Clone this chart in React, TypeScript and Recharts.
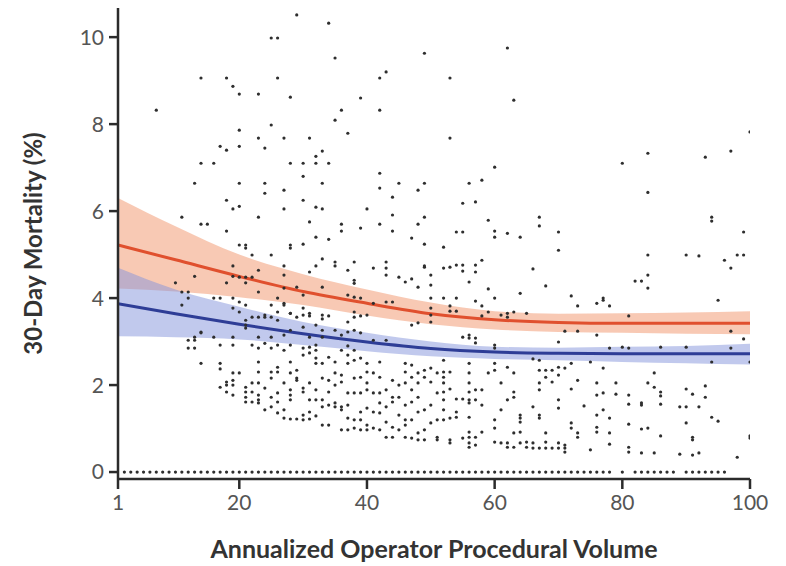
import React from 'react';
import { ComposedChart, XAxis, YAxis, Area, Line, Scatter, Label } from 'recharts';

// Fitted curves (x = annualized operator volume)
const curveX = [1, 10, 20, 30, 40, 50, 60, 70, 80, 90, 100];
const redFit = [5.22, 4.88, 4.5, 4.15, 3.88, 3.64, 3.5, 3.44, 3.42, 3.42, 3.42];
const redLow = [4.22, 4.15, 4.02, 3.84, 3.6, 3.4, 3.28, 3.22, 3.2, 3.18, 3.17];
const redHigh = [6.3, 5.65, 5.0, 4.55, 4.2, 3.9, 3.7, 3.64, 3.65, 3.67, 3.7];
const blueFit = [3.87, 3.64, 3.4, 3.18, 2.99, 2.84, 2.76, 2.73, 2.72, 2.72, 2.72];
const blueLow = [3.12, 3.1, 3.05, 2.92, 2.78, 2.66, 2.6, 2.57, 2.53, 2.5, 2.47];
const blueHigh = [4.7, 4.2, 3.8, 3.45, 3.2, 3.0, 2.88, 2.86, 2.88, 2.9, 2.95];

const xTicks = [1, 20, 40, 60, 80, 100];
const yTicks = [0, 2, 4, 6, 8, 10];

// Operator points [volume, mortality %]
const highPoints: number[][] = [
  [7, 8.32], [14, 9.06], [18, 9.06], [19, 8.87], [20, 8.69], [23, 8.69], [25, 9.98], [26, 9.98], [26, 9.06],
  [28, 8.62], [29, 10.51], [34, 10.32], [35, 9.52], [35, 8.09], [36, 8.32], [37, 7.79], [39, 8.6], [42, 9.06],
  [43, 9.2], [42, 8.32], [25, 7.98], [20, 7.86], [17, 7.49], [18, 7.4], [20, 7.49], [23, 7.68], [24, 7.45],
  [27, 7.68], [31, 7.68], [14, 7.1], [16, 7.1], [28, 7.1], [30, 7.1], [32, 7.1], [34, 7.1], [32, 7.26], [33, 7.38],
  [30, 6.8], [13, 6.64], [20, 6.64], [24, 6.64], [24, 6.41], [27, 6.48], [33, 6.64], [42, 6.87], [42, 6.53],
  [45, 6.64], [18, 6.25], [19, 6.05], [20, 6.11], [27, 6.05], [30, 6.25], [32, 6.09], [33, 6.05], [40, 6.05],
  [11, 5.86], [14, 5.7], [15, 5.7], [23, 5.86], [18, 5.54], [31, 5.75], [32, 5.4], [34, 5.35], [36, 5.7],
  [36, 5.54], [39, 5.61], [42, 5.7], [44, 6.32], [44, 5.91], [44, 5.54], [20, 5.22], [21, 5.22], [22, 4.99],
  [25, 4.99], [28, 5.22], [28, 5.15], [30, 5.24], [21, 5.15],
  [49, 9.63], [62, 9.75], [53, 9.06], [63, 8.55], [53, 7.68], [60, 7.01], [100, 7.82], [84, 7.33], [93, 7.24],
  [97, 7.38], [80, 7.1], [84, 6.43], [94, 5.86], [94, 5.77], [99, 5.52], [84, 4.99], [90, 4.99], [92, 4.97],
  [96, 4.87], [98, 4.99], [99, 4.99], [48, 6.48], [49, 6.64], [56, 6.64], [58, 6.71], [55, 6.18], [57, 6.21],
  [49, 5.86], [48, 5.7], [47, 5.38], [49, 5.24], [52, 5.17], [54, 5.52], [55, 5.52], [59, 5.79], [60, 5.54],
  [60, 5.4], [62, 5.49], [64, 5.4], [67, 5.86], [67, 5.66], [70, 5.52], [70, 5.1],
];

const midPoints: number[][] = [
  [97, 4.69], [84, 4.53], [66, 4.67], [43, 4.83], [43, 4.69], [43, 4.53], [49, 4.71], [52, 4.69], [53, 4.71],
  [54, 4.76], [55, 4.76], [55, 4.62], [57, 4.76], [57, 4.6], [58, 4.87], [50, 4.53],
  [19, 4.74], [23, 4.64], [13, 4.5], [19, 4.5], [20, 4.48], [21, 4.48], [22, 4.48], [21, 4.35], [10, 4.35],
  [18, 4.35], [11, 4.14], [12, 4.14], [12, 4.0], [11, 3.84], [16, 4.0], [17, 4.0], [19, 4.0], [20, 3.91],
  [21, 3.84], [19, 3.77], [20, 3.68], [23, 4.14], [25, 3.84], [26, 3.68], [22, 3.56], [24, 3.56], [26, 4.0],
  [33, 4.9], [35, 4.83], [35, 4.74], [38, 4.83], [32, 4.74], [31, 4.6], [27, 4.74], [27, 4.53], [37, 4.64],
  [41, 4.69], [49, 4.74], [50, 4.3], [50, 4.0], [50, 3.77], [45, 4.48], [46, 4.37], [47, 4.44], [48, 4.25],
  [38, 4.41], [38, 4.34], [33, 4.25], [29, 4.25], [30, 4.07], [30, 3.77], [27, 4.23], [27, 3.88], [27, 3.84],
  [37, 4.07], [38, 4.02], [39, 4.0], [41, 3.88], [43, 3.91], [44, 3.91], [28, 3.65], [29, 3.56], [31, 3.59],
  [33, 3.61], [33, 3.52], [34, 3.59], [38, 3.68], [39, 3.59], [50, 3.61], [50, 3.45], [47, 3.38], [48, 3.43],
  [56, 4.37], [59, 4.21], [64, 4.11], [68, 4.28], [52, 4.0], [54, 4.0], [57, 3.93], [58, 3.82], [60, 4.0],
  [72, 4.05], [73, 3.82], [76, 3.88], [77, 3.95], [53, 3.82], [53, 3.7], [54, 3.7], [59, 3.68], [61, 3.61],
  [62, 3.65], [62, 3.56], [63, 3.68], [65, 3.65], [58, 3.59],
  [82, 4.39], [83, 4.39], [84, 4.23], [77, 4.0], [78, 3.82], [95, 3.95], [81, 3.59],
  [14, 3.22], [21, 3.49], [21, 3.38], [21, 3.31], [23, 3.56], [24, 3.61], [25, 3.56], [26, 3.49], [19, 3.1],
  [23, 3.1], [25, 3.1], [27, 3.15], [28, 3.65], [30, 3.61], [31, 3.65], [28, 3.26], [30, 3.33], [32, 3.38],
  [33, 3.26], [31, 3.1], [33, 3.1], [35, 3.26], [36, 3.15], [37, 3.22], [38, 3.26], [39, 3.2], [37, 3.45],
  [38, 3.56], [40, 3.61], [41, 3.03], [43, 3.03], [12, 3.03], [13, 3.1], [13, 3.03], [14, 3.2], [16, 3.1],
  [55, 3.1], [56, 3.15], [56, 3.08], [57, 3.08], [57, 2.97], [70, 2.99], [71, 3.24], [73, 3.24], [76, 3.15],
  [99, 3.06], [97, 3.24],
];

const lowPoints: number[][] = [
  [12, 2.85], [13, 2.85], [14, 2.5], [17, 2.92], [19, 2.92], [22, 2.92], [23, 2.85], [24, 2.96], [25, 2.85],
  [26, 2.92], [17, 2.5], [17, 2.37], [19, 2.28], [20, 2.28], [23, 2.53], [23, 2.3], [25, 2.3], [26, 2.41],
  [26, 2.3], [18, 2.07], [18, 2.0], [18, 1.84], [19, 2.11], [19, 2.0], [19, 1.77], [17, 1.95], [21, 1.95],
  [21, 1.84], [21, 1.72], [21, 1.61], [22, 2.05], [22, 1.84], [22, 1.61], [23, 2.05], [23, 1.77], [23, 1.66],
  [23, 1.59], [24, 1.93], [24, 1.43], [25, 2.16], [25, 1.72], [25, 1.5], [26, 1.82], [26, 1.61], [26, 1.36],
  [28, 2.92], [27, 2.8], [30, 2.85], [30, 2.69], [31, 2.87], [31, 2.74], [32, 2.92], [32, 2.8], [32, 2.62],
  [32, 2.5], [28, 2.53], [29, 2.34], [29, 2.16], [28, 2.28], [27, 2.05], [28, 1.89], [28, 1.77], [28, 1.66],
  [27, 1.43], [27, 1.24], [28, 1.22], [29, 1.22], [30, 1.31], [30, 1.2], [31, 1.38], [31, 1.22], [32, 1.29],
  [29, 2.11], [30, 1.93], [30, 1.84], [31, 2.05], [31, 1.66], [32, 1.89], [32, 1.66],
  [33, 2.5], [33, 2.16], [33, 1.66], [33, 1.5], [33, 1.08], [34, 2.64], [34, 2.11], [34, 1.84], [34, 1.54],
  [34, 1.08], [35, 2.53], [35, 2.28], [35, 2.0], [35, 1.59], [35, 1.5], [36, 2.8], [36, 2.23], [36, 2.07],
  [36, 1.5], [36, 1.43], [36, 0.97], [37, 2.9], [37, 2.69], [37, 2.5], [37, 1.82], [37, 1.54], [37, 1.24],
  [37, 0.97], [38, 2.8], [38, 2.57], [38, 2.16], [38, 1.82], [38, 1.2], [38, 1.01], [39, 2.62], [39, 2.18],
  [39, 1.82], [39, 1.38], [39, 1.2], [39, 0.97], [40, 2.5], [40, 2.3], [40, 2.05], [40, 1.89], [40, 1.47],
  [40, 1.08], [40, 0.97], [41, 2.28], [41, 1.82], [41, 1.38], [41, 1.01], [42, 2.53], [42, 2.18], [42, 1.82],
  [42, 1.59], [42, 1.36], [42, 0.97], [43, 1.89], [43, 1.5], [43, 1.15], [43, 0.8], [44, 2.11], [44, 1.72],
  [44, 1.61], [44, 1.03], [44, 0.8], [45, 2.0], [45, 1.72], [45, 1.31], [45, 0.97], [46, 2.5], [46, 2.3],
  [46, 2.05], [46, 1.54], [46, 1.2], [46, 1.08], [46, 0.8], [47, 2.46], [47, 2.18], [47, 1.89], [47, 1.61],
  [47, 1.2], [47, 0.78], [48, 2.28], [48, 2.05], [48, 1.72], [48, 1.38], [48, 0.9], [48, 0.74], [49, 2.34],
  [49, 2.18], [49, 1.43], [49, 0.97], [49, 0.74], [50, 2.39], [50, 2.07], [50, 1.54], [50, 1.13], [51, 2.28],
  [51, 1.82], [51, 1.2], [51, 0.8], [51, 0.74],
  [52, 2.57], [52, 2.3], [52, 2.18], [52, 2.05], [52, 1.84], [52, 1.66], [52, 1.43], [52, 1.2], [53, 2.3],
  [53, 1.91], [53, 1.24], [53, 0.74], [53, 0.67], [54, 1.68], [54, 1.38], [54, 1.26], [55, 1.68], [55, 0.78],
  [56, 2.5], [56, 2.28], [56, 2.05], [56, 1.84], [56, 1.66], [56, 1.59], [56, 1.26], [56, 0.92], [56, 0.8],
  [56, 0.67], [56, 0.57], [57, 1.89], [57, 1.66], [57, 0.8], [57, 0.62], [58, 1.89], [58, 1.54], [58, 0.92],
  [59, 2.28], [60, 2.92], [60, 2.85], [60, 2.5], [60, 2.34], [60, 1.2], [60, 1.01], [60, 0.69], [61, 2.05],
  [61, 1.43], [61, 0.67], [62, 2.41], [62, 1.66], [62, 0.67], [62, 0.57], [63, 2.28], [63, 1.84], [63, 1.72],
  [63, 0.9], [63, 0.57], [64, 1.31], [64, 1.24], [64, 1.15], [64, 0.92], [64, 0.67], [65, 0.69], [65, 0.57],
  [66, 2.6], [66, 1.5], [66, 0.67], [66, 0.55], [67, 2.57], [67, 2.34], [67, 2.05], [67, 1.89], [67, 1.31],
  [67, 1.24], [67, 0.55], [68, 2.34], [68, 2.18], [68, 0.9], [68, 0.69], [68, 0.55], [69, 2.34], [69, 2.07],
  [69, 0.55], [70, 2.41], [70, 2.23], [70, 1.66], [70, 1.47], [70, 0.67], [70, 0.55], [71, 2.39], [71, 0.62],
  [71, 0.55], [71, 0.46], [72, 2.5], [72, 1.91], [72, 1.13], [72, 1.01], [73, 2.11], [73, 0.9], [73, 0.8],
  [74, 1.52], [75, 2.53], [75, 0.51], [76, 2.05], [76, 1.77], [76, 1.31], [76, 1.03], [76, 0.92], [77, 2.39],
  [77, 1.43],
  [78, 2.85], [80, 2.87], [81, 2.85], [86, 2.87], [90, 2.87], [97, 2.85], [94, 2.53], [100, 2.53], [85, 2.28],
  [79, 2.05], [84, 2.05], [85, 1.95], [86, 1.84], [86, 1.75], [90, 1.91], [91, 1.79], [93, 1.98], [93, 1.72],
  [77, 1.82], [79, 1.79], [81, 1.77], [81, 1.56], [83, 1.59], [83, 1.54], [86, 1.56], [89, 1.5], [90, 1.5],
  [92, 1.5], [94, 1.26], [95, 1.17], [78, 1.24], [90, 1.13], [81, 1.1], [83, 0.99], [84, 1.01], [78, 0.9],
  [78, 0.64], [86, 0.83], [91, 0.8], [91, 0.74], [100, 0.83], [100, 0.78], [81, 0.57], [81, 0.46], [83, 0.44],
  [85, 0.44], [89, 0.41], [91, 0.39], [92, 0.44], [98, 0.34],
];

// Operators with zero 30-day mortality (volumes)
const zeroVolumes: number[] = [
  2, 3, 4, 5, 6, 7, 8, 9, 10, 11, 12, 13, 14, 15, 16, 17, 18, 19, 20, 21, 22, 23, 24, 25, 26, 27, 28, 29, 30,
  31, 32, 33, 34, 35, 36, 37, 38, 39, 40, 41, 42, 43, 44, 45, 46, 47, 48, 49, 50, 51, 52, 53, 54, 55, 56, 57,
  58, 59, 60, 61, 62, 63, 64, 65, 66, 67, 68, 69, 70, 71, 72, 73, 74, 75, 76, 77, 78, 80, 82, 83, 84, 85, 86,
  87, 88, 90, 91, 92, 93, 94, 95, 96,
];

const curveData = curveX.map((x, i) => ({
  x,
  red: redFit[i],
  blue: blueFit[i],
  redBand: [redLow[i], redHigh[i]],
  blueBand: [blueLow[i], blueHigh[i]],
}));

const scatterData = [...highPoints, ...midPoints, ...lowPoints]
  .map(([x, y]) => ({ x, y }))
  .concat(zeroVolumes.map((x) => ({ x, y: 0 })));

const renderDot = (props: any) => {
  const { cx, cy } = props;
  if (cx == null || cy == null) return <g />;
  return <circle cx={cx} cy={cy} r={1.6} fill="#2e2e2e" />;
};

const axisColor = '#2b2b2b';
const tickFont = { fill: '#555', fontSize: 21, fontFamily: 'Lato, sans-serif' };
const xTitleFont = { fill: '#333', fontSize: 25, fontWeight: 700, fontFamily: 'Lato, sans-serif' };
const yTitleFont = { fill: '#333', fontSize: 24, fontWeight: 700, fontFamily: 'Lato, sans-serif' };

export default function App() {
  return (
    <div style={{ position: 'absolute', left: 0, top: 0, width: 786, height: 566, background: '#fff' }}>
      <ComposedChart width={786} height={566} data={curveData} margin={{ top: 8, right: 36, bottom: 0, left: 0 }}>
        <XAxis
          dataKey="x"
          type="number"
          domain={[1, 100]}
          ticks={xTicks}
          allowDataOverflow
          height={87}
          tickSize={10}
          tickMargin={6}
          axisLine={{ stroke: axisColor, strokeWidth: 2.5 }}
          tickLine={{ stroke: axisColor, strokeWidth: 2.5 }}
          tick={tickFont}
        >
          <Label value="Annualized Operator Procedural Volume" position="insideBottom" offset={8} style={xTitleFont} />
        </XAxis>
        <YAxis
          type="number"
          domain={[-0.16, 10.67]}
          ticks={yTicks}
          allowDataOverflow
          width={118}
          tickSize={9}
          tickMargin={5}
          axisLine={{ stroke: axisColor, strokeWidth: 2.5 }}
          tickLine={{ stroke: axisColor, strokeWidth: 2.5 }}
          tick={tickFont}
        >
          <Label
            value="30-Day Mortality (%)"
            angle={-90}
            position="insideLeft"
            offset={33}
            style={{ ...yTitleFont, textAnchor: 'middle' }}
          />
        </YAxis>
        <Area dataKey="redBand" type="monotone" stroke="none" fill="#f4a582" fillOpacity={0.6} dot={false} activeDot={false} isAnimationActive={false} />
        <Area dataKey="blueBand" type="monotone" stroke="none" fill="#8494dc" fillOpacity={0.5} dot={false} activeDot={false} isAnimationActive={false} />
        <Line dataKey="red" type="monotone" stroke="#e0502e" strokeWidth={3} dot={false} activeDot={false} isAnimationActive={false} />
        <Line dataKey="blue" type="monotone" stroke="#2e3d96" strokeWidth={3} dot={false} activeDot={false} isAnimationActive={false} />
        <Scatter data={scatterData} dataKey="y" shape={renderDot} isAnimationActive={false} />
      </ComposedChart>
    </div>
  );
}
